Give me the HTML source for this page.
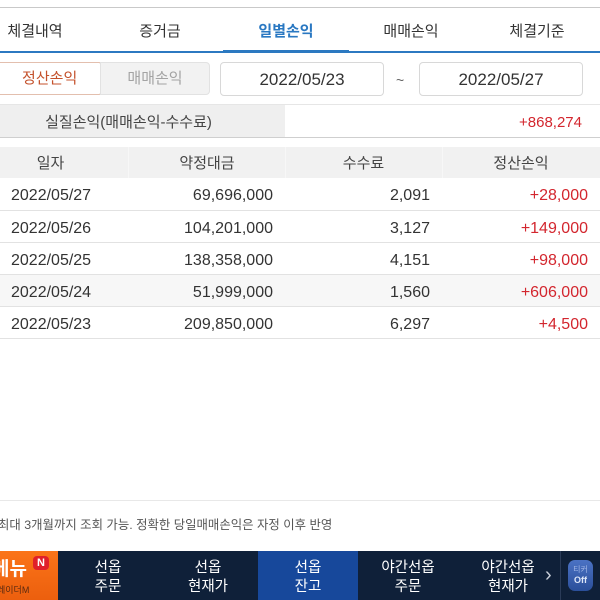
<!DOCTYPE html>
<html>
<head>
<meta charset="utf-8">
<style>
*{margin:0;padding:0;box-sizing:border-box;}
html,body{width:600px;height:600px;overflow:hidden;background:#fff;}
body{position:relative;font-family:"Liberation Sans","Noto Sans CJK KR",sans-serif;color:#333;}
.abs{position:absolute;}
.tab{position:absolute;top:20px;width:126px;text-align:center;font-size:15px;line-height:24px;color:#333;}
.btn{position:absolute;top:62px;height:33px;line-height:32px;text-align:center;font-size:15px;}
.date{position:absolute;top:62px;height:34px;line-height:33px;text-align:center;font-size:17px;border:1px solid #d8d8d8;border-radius:4px;background:#fff;color:#333;}
.row{position:absolute;left:0;width:600px;height:32px;border-bottom:1px solid #e2e2e2;font-size:16px;}
.row div{position:absolute;top:2px;line-height:32px;}
.c1{left:11px;}
.c2{right:327px;}
.c3{right:170px;}
.c4{right:12px;color:#d3262e;}
.hd{position:absolute;top:1px;line-height:31px;font-size:15px;color:#444;text-align:center;}
.nav{position:absolute;top:551px;width:100px;height:49px;color:#fff;text-align:center;font-size:14.5px;line-height:19px;padding-top:8px;}
</style>
</head>
<body>
<!-- top strip -->
<div class="abs" style="left:0;top:7px;width:600px;height:1px;background:#c9c9c9;"></div>

<!-- tabs -->
<div class="tab" style="left:-28px;">체결내역</div>
<div class="tab" style="left:97px;">증거금</div>
<div class="tab" style="left:223px;color:#2a78c2;font-weight:bold;">일별손익</div>
<div class="tab" style="left:348px;">매매손익</div>
<div class="tab" style="left:474px;">체결기준</div>
<div class="abs" style="left:0;top:51px;width:600px;height:2px;background:#2c79c1;"></div>
<div class="abs" style="left:223px;top:50px;width:126px;height:3px;background:#2c79c1;"></div>

<!-- buttons -->
<div class="btn" style="left:-10px;width:111px;border:1px solid #e3bfae;background:#fff;color:#c4512b;border-radius:0 2px 2px 0;">&nbsp;&nbsp;정산손익</div>
<div class="btn" style="left:100px;width:110px;border:1px solid #e2e2e2;background:#f2f2f2;color:#a3a3a3;border-radius:0 4px 4px 0;">매매손익</div>
<div class="date" style="left:220px;width:164px;">2022/05/23</div>
<div class="abs" style="left:396px;top:68px;font-size:14px;color:#666;line-height:24px;">~</div>
<div class="date" style="left:419px;width:164px;">2022/05/27</div>

<!-- summary -->
<div class="abs" style="left:0;top:104px;width:600px;height:1px;background:#e6e6e6;"></div>
<div class="abs" style="left:0;top:105px;width:285px;height:32px;background:#efefef;"></div>
<div class="abs" style="left:-28px;top:107px;width:313px;line-height:32px;text-align:center;font-size:15px;color:#444;">실질손익(매매손익-수수료)</div>
<div class="abs" style="right:18px;top:107px;line-height:32px;font-size:15px;color:#d3262e;">+868,274</div>
<div class="abs" style="left:0;top:137px;width:600px;height:1px;background:#cfcfcf;"></div>

<!-- table header -->
<div class="abs" style="left:0;top:147px;width:600px;height:31px;background:#f1f1f1;">
  <div class="abs" style="left:128px;top:0;width:1px;height:31px;background:#f7f7f7;"></div>
  <div class="abs" style="left:285px;top:0;width:1px;height:31px;background:#f7f7f7;"></div>
  <div class="abs" style="left:442px;top:0;width:1px;height:31px;background:#f7f7f7;"></div>
  <div class="hd" style="left:-28px;width:157px;">일자</div>
  <div class="hd" style="left:129px;width:156px;">약정대금</div>
  <div class="hd" style="left:285px;width:157px;">수수료</div>
  <div class="hd" style="left:442px;width:158px;">정산손익</div>
</div>

<!-- rows -->
<div class="row" style="top:178px;height:33px;">
  <div class="c1">2022/05/27</div><div class="c2">69,696,000</div><div class="c3">2,091</div><div class="c4">+28,000</div>
</div>
<div class="row" style="top:211px;">
  <div class="c1">2022/05/26</div><div class="c2">104,201,000</div><div class="c3">3,127</div><div class="c4">+149,000</div>
</div>
<div class="row" style="top:243px;">
  <div class="c1">2022/05/25</div><div class="c2">138,358,000</div><div class="c3">4,151</div><div class="c4">+98,000</div>
</div>
<div class="row" style="top:275px;background:#f7f7f7;">
  <div class="c1">2022/05/24</div><div class="c2">51,999,000</div><div class="c3">1,560</div><div class="c4">+606,000</div>
</div>
<div class="row" style="top:307px;">
  <div class="c1">2022/05/23</div><div class="c2">209,850,000</div><div class="c3">6,297</div><div class="c4">+4,500</div>
</div>

<!-- note -->
<div class="abs" style="left:0;top:500px;width:600px;height:1px;background:#e8e8e8;"></div>
<div class="abs" style="left:-2px;top:516px;font-size:12.4px;line-height:18px;color:#555;white-space:nowrap;">최대 3개월까지 조회 가능. 정확한 당일매매손익은 자정 이후 반영</div>

<!-- bottom nav -->
<div class="abs" style="left:0;top:551px;width:600px;height:49px;background:#0f2039;"></div>
<div class="abs" style="left:0;top:551px;width:58px;height:49px;background:linear-gradient(#fb7418,#ec5f0e);overflow:hidden;">
  <div class="abs" style="left:-8px;top:8px;font-size:19px;font-weight:bold;color:#fff;line-height:22px;">메뉴</div>
  <div class="abs" style="left:33px;top:5px;width:16px;height:14px;border-radius:4px;background:#e0202a;color:#fff;font-size:11px;font-weight:bold;line-height:14px;text-align:center;">N</div>
  <div class="abs" style="left:-3px;top:33px;font-size:9px;color:#5a2a10;line-height:12px;white-space:nowrap;">레이더M</div>
</div>
<div class="nav" style="left:58px;">선옵<br>주문</div>
<div class="nav" style="left:158px;">선옵<br>현재가</div>
<div class="nav" style="left:258px;background:#17489b;">선옵<br>잔고</div>
<div class="nav" style="left:358px;">야간선옵<br>주문</div>
<div class="nav" style="left:458px;">야간선옵<br>현재가</div>
<div class="abs" style="left:545px;top:563px;font-size:20px;color:#c9ced8;line-height:24px;">&#8250;</div>
<div class="abs" style="left:560px;top:551px;width:1px;height:49px;background:#2a3b58;"></div>
<div class="abs" style="left:568px;top:560px;width:25px;height:31px;border-radius:7px;background:linear-gradient(#4b72c4,#2b4f9a);text-align:center;">
  <div style="font-size:8px;line-height:10px;color:#9fb5e6;margin-top:5px;">티커</div>
  <div style="font-size:9px;line-height:11px;color:#dfe7f8;font-weight:bold;">Off</div>
</div>
</body>
</html>
